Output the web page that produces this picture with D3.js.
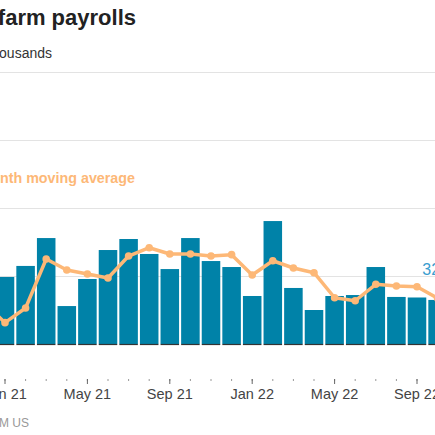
<!DOCTYPE html>
<html>
<head>
    <meta charset="utf-8">
    <title>U.S. nonfarm payrolls</title>
    <script src="https://cdn.jsdelivr.net/npm/d3@7"></script>
    <style>
        body { margin: 0; background: #fff; }
        svg { display: block; font-family: "Liberation Sans", Arial, sans-serif; }
    </style>
</head>
<body>
    <svg width="435" height="435" id="mainsvg"></svg>
    <script>
        // months shown (Dec 20 sits just off the left edge)
        const months = ['Dec 20', 'Jan 21', 'Feb 21', 'Mar 21', 'Apr 21', 'May 21', 'Jun 21', 'Jul 21',
            'Aug 21', 'Sep 21', 'Oct 21', 'Nov 21', 'Dec 21', 'Jan 22', 'Feb 22', 'Mar 22', 'Apr 22',
            'May 22', 'Jun 22', 'Jul 22', 'Aug 22', 'Sep 22', 'Oct 22'];
        // monthly change, thousands
        const jobs = [null, 493, 574, 779, 279, 478, 691, 772, 662, 551, 779, 610, 566,
            353, 904, 412, 250, 353, 360, 566, 346, 342, 324];
        // 3-month moving average
        const movingAvg = [301, 157, 265, 625, 544, 515, 485, 647, 708, 662, 662, 647, 657,
            507, 612, 559, 524, 340, 318, 439, 426, 421, 337];
        const tickMonths = ['Jan 21', 'May 21', 'Sep 21', 'Jan 22', 'May 22', 'Sep 22'];
        const gridValues = [500, 1000, 1500, 2000];

        const svg = d3.select('svg');
        const blue = '#0082a8';
        const orange = '#fdb877';

        const x = d3.scaleBand()
            .domain(months)
            .range([-25.9, -25.9 + months.length * 20.6])
            .paddingInner(0.1)
            .paddingOuter(0.05);
        const y = d3.scaleLinear().domain([0, 2000]).range([344, 72]);
        const cx = m => x(m) + x.bandwidth() / 2;

        // titles (left part runs off the crop)
        svg.append('text')
            .attr('x', 136).attr('y', 25)
            .attr('text-anchor', 'end')
            .attr('font-size', 22).attr('font-weight', 'bold').attr('fill', '#222')
            .text('U.S. nonfarm payrolls');
        svg.append('text')
            .attr('x', 52).attr('y', 58)
            .attr('text-anchor', 'end')
            .attr('font-size', 14).attr('fill', '#333')
            .text('Monthly change, in thousands');

        // gridlines
        svg.append('g').selectAll('line').data(gridValues).join('line')
            .attr('x1', 0).attr('x2', 435)
            .attr('y1', d => Math.round(y(d)) + 0.5).attr('y2', d => Math.round(y(d)) + 0.5)
            .attr('stroke', '#e3e3e3').attr('stroke-width', 1);

        svg.append('text')
            .attr('x', 135).attr('y', 183)
            .attr('text-anchor', 'end')
            .attr('font-size', 14.3).attr('font-weight', 'bold').attr('fill', orange)
            .text('3-month moving average');

        const barData = months.map((m, i) => ({ m, v: jobs[i] })).filter(d => d.v !== null);

        svg.append('g').selectAll('rect').data(barData).join('rect')
            .attr('x', d => x(d.m))
            .attr('width', x.bandwidth())
            .attr('y', d => y(d.v))
            .attr('height', d => y(0) - y(d.v))
            .attr('fill', blue);

        // baseline, broken at the bar gaps
        svg.append('g').selectAll('line').data(barData).join('line')
            .attr('x1', d => x(d.m)).attr('x2', d => x(d.m) + x.bandwidth())
            .attr('y1', y(0) + 0.5).attr('y2', y(0) + 0.5)
            .attr('stroke', '#333').attr('stroke-width', 1.2);

        // moving average line
        const maData = months.map((m, i) => ({ m, v: movingAvg[i] }));
        const line = d3.line().x(d => cx(d.m)).y(d => y(d.v));
        svg.append('path')
            .datum(maData)
            .attr('d', line)
            .attr('fill', 'none')
            .attr('stroke', orange)
            .attr('stroke-width', 3.5)
            .attr('stroke-linejoin', 'round');
        svg.append('g').selectAll('circle').data(maData).join('circle')
            .attr('cx', d => cx(d.m)).attr('cy', d => y(d.v))
            .attr('r', 3.8).attr('fill', orange);

        // latest value label
        const last = barData[barData.length - 1];
        svg.append('text')
            .attr('x', cx(last.m) - 2).attr('y', 275)
            .attr('text-anchor', 'middle')
            .attr('font-size', 16).attr('fill', '#3a9dcf')
            .text(last.v);

        // x axis: minor ticks every month, labels every four
        const minor = svg.append('g')
            .attr('transform', 'translate(0,379)')
            .call(d3.axisBottom(x).tickValues(months).tickSize(2).tickFormat(''));
        minor.select('.domain').remove();
        minor.selectAll('line').attr('stroke', '#999');

        const major = svg.append('g')
            .attr('transform', 'translate(0,379)')
            .call(d3.axisBottom(x).tickValues(tickMonths).tickSize(5).tickPadding(5));
        major.select('.domain').remove();
        major.selectAll('line').attr('stroke', '#666');
        major.selectAll('text')
            .attr('font-size', 14.5)
            .attr('font-family', '"Liberation Sans", Arial, sans-serif')
            .attr('fill', '#444');

        svg.append('text')
            .attr('x', 29).attr('y', 427)
            .attr('text-anchor', 'end')
            .attr('font-size', 12).attr('fill', '#999')
            .text('SOURCE: REFINITIV DATASTREAM US');
    </script>
</body>
</html>
